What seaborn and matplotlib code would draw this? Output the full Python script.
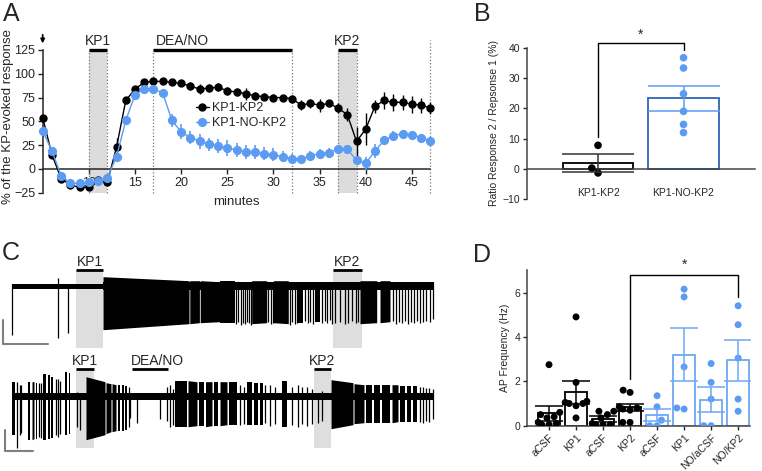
import matplotlib
matplotlib.use("Agg")
import matplotlib.pyplot as plt
import seaborn as sns
import pandas as pd

# ---- panel A: time course (mean +/- SEM) ----
minutes = list(range(5, 48))
kp_mean = [54, 15, -10, -17, -19, -19, -12, -14, 23, 72, 84, 91, 92, 92, 91, 90, 87, 84, 85, 86,
           82, 81, 79, 77, 76, 75, 75, 74, 67, 69, 67, 69, 64, 57, 29, 42, 66, 72, 70, 70, 68, 67, 64]
kp_sem = [3, 3, 3, 3, 3, 3, 3, 3, 10, 4, 3, 3, 3, 3, 3, 3, 4, 5, 4, 4,
          4, 4, 6, 4, 4, 4, 3, 4, 5, 5, 7, 4, 5, 7, 15, 17, 7, 9, 9, 8, 9, 8, 6]
no_mean = [40, 19, -7, -15, -15, -14, -13, -9, 13, 51, 78, 84, 84, 80, 51, 39, 33, 29, 26, 24,
           22, 20, 18, 18, 16, 15, 13, 11, 10, 14, 16, 17, 21, 21, 9, 6, 19, 30, 35, 37, 36, 33, 29]
no_sem = [3, 3, 3, 3, 3, 3, 3, 3, 3, 3, 3, 3, 3, 3, 7, 8, 7, 8, 7, 7,
          8, 7, 7, 7, 7, 7, 6, 5, 4, 5, 5, 5, 4, 4, 5, 7, 7, 5, 5, 4, 4, 4, 3]
kp1_window = (10, 12)
dea_window = (17, 32)
kp2_window = (37, 39)
record_end = 47

# ---- panel B: ratio response 2 / response 1 ----
ratio_groups = ["KP1-KP2", "KP1-NO-KP2"]
ratio_mean = [2.1, 23.3]
ratio_sem = [3.0, 4.1]
ratio_kp = [7.8, 0.3, -1.3]
ratio_no = [36.7, 33.3, 24.8, 19.0, 14.7, 12.0]

# ---- panel D: AP frequency ----
freq_keys = ["aCSF_a", "KP1_a", "aCSF_b", "KP2_a", "aCSF_c", "KP1_b", "NOaCSF", "NOKP2"]
freq_labels = ["aCSF", "KP1", "aCSF", "KP2", "aCSF", "KP1", "NO/aCSF", "NO/KP2"]
freq_mean = [0.55, 1.5, 0.3, 0.82, 0.48, 3.2, 1.18, 2.95]
freq_sem = [0.35, 0.5, 0.12, 0.18, 0.28, 1.18, 0.55, 0.92]
freq_points = [
    [2.75, 0.6, 0.5, 0.4, 0.35, 0.15, 0.1, 0.05, 0.05],
    [4.9, 1.95, 1.1, 1.05, 1.0, 1.0, 0.9, 0.35],
    [0.65, 0.65, 0.5, 0.35, 0.1, 0.05, 0.05, 0.05],
    [1.6, 1.5, 0.85, 0.8, 0.75, 0.7, 0.15, 0.15],
    [1.35, 0.85, 0.25, 0.0, 0.0],
    [6.15, 5.8, 2.65, 0.75, 0.8],
    [2.8, 1.95, 1.2, 0.0, 0.0],
    [5.4, 4.55, 3.05, 1.2, 0.65],
]
freq_group = ["ctrl"] * 4 + ["no"] * 4

# ---- panel C: recordings (time a.u., voltage a.u.) ----
# bursts: (start, end, low_start, low_end, high_start, high_end)
top_bursts = [(91, 177, -43, -37, 10, 6), (177.8, 187.4, -37, -36, 6, 6), (188.2, 208, -36, -35, 6, 5),
              (208, 223, -36, -36, 6, 6), (239.7, 254.7, -37, -36, 6, 6), (261.3, 276.3, -36, -37, 6, 6),
              (286.3, 291.3, -36, -36, 5, 5), (303, 308, -35, -35, 5, 5),
              (348, 364.7, -37, -36, 6, 6), (368, 378, -36, -35, 6, 6)]
top_spike_t = [0, 46, 56, 224, 226, 229, 231, 233, 235, 237, 239, 256, 258.5, 260.5, 278, 280,
               282.5, 285, 293, 295.5, 298, 300.5, 310, 312.5, 315, 317.5, 320, 323, 328, 333,
               336, 340, 343.5, 346, 381, 384, 387, 390, 393, 396, 399, 402, 405, 408, 411, 414,
               418, 421]
top_spike_lo = [-48, -51, -46, -37, -35, -38, -36, -37, -35, -36, -38, -35, -37, -36, -38, -35,
                -37, -36, -34, -36, -35, -37, -36, -34, -36, -33, -37, -36, -35, -37, -36, -34,
                -36, -35, -34, -37, -35, -36, -34, -37, -35, -36, -34, -36, -35, -34, -35, -32]
top_spike_hi = [3, 9, 3] + [5] * 45
bot_bursts = [(0, 2.5, -38, -38, 15, 15), (16, 18, -43, -43, 15, 15), (20, 22, -43, -42, 15, 15),
              (23.5, 25, -42, -42, 14, 14), (31, 34, -43, -43, 23, 23), (35.5, 38, -42, -42, 22, 22),
              (39, 41, -41, -41, 20, 20), (53, 55, -38, -38, 25, 25), (57, 58, -37, -37, 24, 24),
              (74, 93, -43, -38, 20, 15), (94, 99, -37, -35, 14, 13), (100, 104, -35, -34, 13, 12),
              (105.5, 108, -34, -34, 12, 12), (110, 111.5, -34, -34, 12, 12), (113, 114.5, -33, -33, 11, 11),
              (163, 175, -30, -30, 16, 16), (176, 185, -30, -29, 16, 15), (186.5, 192, -29, -29, 15, 15),
              (193.5, 200, -30, -29, 15, 15), (202, 206, -29, -29, 15, 15), (208, 215, -29, -28, 15, 15),
              (217, 225, -28, -28, 15, 15), (235, 240, -28, -28, 15, 15), (242, 246, -28, -28, 14, 14),
              (248, 251, -28, -28, 14, 14), (270, 275, -30, -30, 16, 16),
              (319, 341, -32, -28, 17, 14), (342, 352, -27, -26, 13, 12), (353.5, 360, -26, -26, 12, 12),
              (361.5, 368, -26, -26, 12, 12), (370, 378, -26, -26, 12, 12), (380, 386, -26, -25, 12, 12),
              (388, 393, -25, -25, 11, 11), (395, 399, -25, -25, 11, 11), (401, 405, -25, -25, 11, 11)]
bot_spike_t = [5, 7.5, 9, 27, 29, 44, 46, 48, 65, 68, 116.5, 118, 125, 148, 155, 158, 161, 228,
               232, 253, 258, 263, 280, 286, 290, 295, 300, 306, 310, 408, 411, 414, 417, 421]
bot_spike_lo = [-51, -38, -36, -40, -41, -38, -40, -37, -30, -33, -30, -21, -26, -22, -24, -30,
                -28, -28, -27, -26, -29, -27, -28, -30, -27, -29, -27, -26, -24, -25, -26, -24,
                -25, -22]
bot_spike_hi = [15, 12, 12, 14, 14, 18, 18, 16, 5, 4, 10, 3, 3, 4, 10, 12, 8, 12, 10, 12, 12, 10,
                10, 12, 10, 10, 8, 4, 6, 10, 10, 9, 9, 8]
top_windows = {"KP1": (64, 91.3), "KP2": (321.3, 349.7)}
bot_windows = {"KP1": (64, 82.3), "KP2": (302, 318.7)}
bot_dea = (120.3, 155.7)
top_end = 422
bot_end = 422

BLUE = "#5b9cf2"
BLUE_DARK = "#2f63b8"
BLUE_BAR = "#6ea8f5"

sns.set_style("ticks")
plt.rcParams["font.family"] = ["Liberation Sans", "DejaVu Sans"]
plt.rcParams["axes.linewidth"] = 1.1

W, H = 762, 471
fig = plt.figure(figsize=(W / 100, H / 100), dpi=100)


def px_axes(left, top, width, height):
    return fig.add_axes([left / W, 1 - (top + height) / H, width / W, height / H])


# ================= A =================
ax = px_axes(42.7, 26.2, 392.3, 168.5)
ax.set_xlim(5, 47.5)
ax.set_ylim(-27, 150)
for (a, b) in [kp1_window, kp2_window]:
    ax.fill_between([a, b], -25.5, 125, color="#dcdcdc", lw=0, zorder=0)
ax.vlines([kp1_window[0], kp1_window[1], dea_window[0], dea_window[1], kp2_window[0],
           kp2_window[1]], -25.5, 125, colors="#777777", linestyles=":", lw=0.9, zorder=1)
ax.vlines([record_end], -25.5, 135, colors="#777777", linestyles=":", lw=0.9, zorder=1, clip_on=False)
for (a, b), name in [(kp1_window, "KP1"), (dea_window, "DEA/NO"), (kp2_window, "KP2")]:
    ax.plot([a, b], [125, 125], color="black", lw=2.4, solid_capstyle="butt", clip_on=False)
    if name == "DEA/NO":
        ax.text(a + 0.3, 134, name, ha="left", va="center", fontsize=10)
    else:
        ax.text((a + b) / 2, 134, name, ha="center", va="center", fontsize=10)
h1 = ax.errorbar(minutes, kp_mean, yerr=kp_sem, fmt="-o", color="black", ms=5, lw=1,
                 elinewidth=1, capsize=0, clip_on=False, zorder=3)
h2 = ax.errorbar(minutes, no_mean, yerr=no_sem, fmt="-o", color=BLUE, ms=5.6, lw=1,
                 elinewidth=1.2, capsize=0, clip_on=False, zorder=4)
ax.annotate("", xy=(5, 129), xytext=(5, 144),
            arrowprops=dict(arrowstyle="-|>", color="black", lw=1.2, mutation_scale=6),
            annotation_clip=False)
ax.spines["top"].set_visible(False)
ax.spines["right"].set_visible(False)
ax.spines["bottom"].set_position(("data", 0))
ax.spines["bottom"].set_bounds(5, 47)
ax.spines["left"].set_bounds(-25, 125)
ax.set_yticks([-25, 0, 25, 50, 75, 100, 125])
ax.set_xticks([10, 15, 20, 25, 30, 35, 40, 45])
ax.tick_params(labelsize=9, length=3.5, width=1, pad=2)
ax.legend([h1[0], h2[0]], ["KP1-KP2", "KP1-NO-KP2"], loc="upper left",
          bbox_to_anchor=(196 / W, 1 - 102 / H), bbox_transform=fig.transFigure,
          frameon=False, fontsize=9, handlelength=1.0, handletextpad=0.3,
          labelspacing=0.25, borderpad=0, borderaxespad=0)
fig.text(236.7 / W, 1 - 201.7 / H, "minutes", ha="center", va="center", fontsize=9.5)
fig.text(8 / W, 1 - 117 / H, "% of the KP-evoked response", ha="center", va="center",
         rotation=90, fontsize=9.5)

# ================= B =================
axb = px_axes(526.7, 47.7, 228.3, 151.6)
bdf = pd.DataFrame({"group": ratio_groups, "ratio": ratio_mean})
pdf = pd.DataFrame({"group": ["KP1-KP2"] * len(ratio_kp) + ["KP1-NO-KP2"] * len(ratio_no),
                    "ratio": ratio_kp + ratio_no})
sns.barplot(data=bdf, x="group", y="ratio", order=ratio_groups, color="white", edgecolor="black",
            linewidth=1.3, width=0.82, errorbar=None, ax=axb)
for patch, ec in zip(axb.patches, ["black", BLUE_DARK]):
    patch.set_edgecolor(ec)
    patch.set_facecolor("white")
sns.swarmplot(data=pdf, x="group", y="ratio", order=ratio_groups, hue="group",
              palette={"KP1-KP2": "black", "KP1-NO-KP2": BLUE}, size=5.5, legend=False,
              ax=axb, zorder=3)
for i, (m, s, c) in enumerate(zip(ratio_mean, ratio_sem, ["#333333", BLUE])):
    axb.errorbar([i], [m], yerr=[s], fmt="none", ecolor=c, elinewidth=1.1, capsize=26,
                 capthick=1.1, zorder=4)
top_b = max(ratio_no) + 5
axb.plot([0, 0, 1, 1], [max(ratio_kp) + 2.7, top_b, top_b, max(ratio_no) + 2.5],
         color="black", lw=1, clip_on=False)
axb.text(0.5, top_b + 2.6, "*", ha="center", va="center", fontsize=10)
axb.set_xlim(-0.834, 1.836)
axb.set_ylim(-10, 40)
axb.set_yticks([-10, 0, 10, 20, 30, 40])
axb.spines["top"].set_visible(False)
axb.spines["right"].set_visible(False)
axb.spines["bottom"].set_position(("data", 0))
axb.spines["bottom"].set_color("#444444")
axb.spines["left"].set_color("#444444")
axb.set_xlabel("")
axb.set_ylabel("Ratio Response 2 / Repsonse 1 (%)", fontsize=7.5, labelpad=2)
axb.tick_params(axis="y", labelsize=7.5, length=3, width=1, pad=2)
axb.tick_params(axis="x", labelsize=7.5, length=0, pad=14)

# ================= C =================
axt = px_axes(0, 250, 440, 102)
axt.set_xlim(-12, 428)
axt.set_ylim(-65.3, 36.7)
for name, (a, b) in top_windows.items():
    axt.fill_between([a, b], -61.6, 16.7, color="#dedede", lw=0, zorder=0)
    axt.plot([a, b], [16.7, 16.7], color="black", lw=2, solid_capstyle="butt")
    axt.text((a + b) / 2, 25, name, ha="center", va="center", fontsize=10)
axt.fill_between([0, 91], -2.5, 2.5, color="black", lw=0)
axt.fill_between([91, top_end], -3, 4.5, color="black", lw=0)
for s, e, lo0, lo1, hi0, hi1 in top_bursts:
    axt.fill_between([s, e], [lo0, lo1], [hi0, hi1], color="black", lw=0)
axt.vlines(top_spike_t, top_spike_lo, top_spike_hi, colors="black", lw=0.9)
axt.plot([-8.7, -8.7, 36.3], [-33.3, -57.6, -57.6], color="#808080", lw=1.5)
axt.axis("off")

axc = px_axes(0, 352, 440, 113)
axc.set_xlim(-12, 428)
axc.set_ylim(-68.3, 44.7)
for name, (a, b) in bot_windows.items():
    axc.fill_between([a, b], -51.6, 27.4, color="#dedede", lw=0, zorder=0)
    axc.plot([a, b], [27.4, 27.4], color="black", lw=2, solid_capstyle="butt")
    axc.text((a + b) / 2, 35.5, name, ha="center", va="center", fontsize=10)
axc.plot(list(bot_dea), [27.4, 27.4], color="black", lw=2, solid_capstyle="butt")
axc.text(bot_dea[0] - 1, 35.5, "DEA/NO", ha="left", va="center", fontsize=10)
axc.fill_between([0, bot_end], -3.5, 3.5, color="black", lw=0)
for s, e, lo0, lo1, hi0, hi1 in bot_bursts:
    axc.fill_between([s, e], [lo0, lo1], [hi0, hi1], color="black", lw=0)
axc.vlines(bot_spike_t, bot_spike_lo, bot_spike_hi, colors="black", lw=0.9)
axc.plot([-7, -7, 21.3], [-33.3, -54, -54], color="#808080", lw=1.5)
axc.axis("off")

# ================= D =================
axd = px_axes(527.3, 270.3, 222.7, 155.4)
ddf = pd.DataFrame({"cond": freq_keys, "freq": freq_mean})
rows = []
for key, grp, pts in zip(freq_keys, freq_group, freq_points):
    for v in pts:
        rows.append({"cond": key, "grp": grp, "freq": v})
dpts = pd.DataFrame(rows)
sns.barplot(data=ddf, x="cond", y="freq", order=freq_keys, color="white", edgecolor="black",
            linewidth=1.3, width=0.8, errorbar=None, ax=axd)
dcolors = ["black" if g == "ctrl" else BLUE_BAR for g in freq_group]
for patch, ec in zip(axd.patches, dcolors):
    patch.set_edgecolor(ec)
    patch.set_facecolor("white")
sns.swarmplot(data=dpts, x="cond", y="freq", order=freq_keys, hue="grp",
              palette={"ctrl": "black", "no": BLUE}, size=5, legend=False, ax=axd, zorder=3)
for i, (m, s, c) in enumerate(zip(freq_mean, freq_sem, dcolors)):
    axd.errorbar([i], [m], yerr=[s], fmt="none", ecolor=c, elinewidth=1.1, capsize=10,
                 capthick=1.1, zorder=4)
top_d = max(max(p) for p in freq_points) + 0.65
axd.plot([3, 3, 7, 7], [max(freq_points[3]) + 0.5, top_d, top_d, max(freq_points[7]) + 0.4],
         color="black", lw=1, clip_on=False)
axd.text(5, top_d + 0.45, "*", ha="center", va="center", fontsize=10)
axd.set_xlim(-0.804, 7.44)
axd.set_ylim(0, 7)
axd.set_yticks([0, 2, 4, 6])
axd.set_xticks(range(len(freq_labels)))
axd.set_xticklabels(freq_labels, rotation=45, ha="right", rotation_mode="anchor")
axd.spines["top"].set_visible(False)
axd.spines["right"].set_visible(False)
axd.spines["bottom"].set_color("#444444")
axd.spines["left"].set_color("#444444")
axd.set_xlabel("")
axd.set_ylabel("AP Frequency (Hz)", fontsize=7.5, labelpad=3)
axd.tick_params(axis="y", labelsize=7.5, length=3, width=1, pad=2)
axd.tick_params(axis="x", labelsize=7.5, length=3, width=1, pad=2)

# panel letters
for letter, x, y in [("A", 11, 14), ("B", 482, 14), ("C", 11, 253), ("D", 482, 255)]:
    fig.text(x / W, 1 - y / H, letter, ha="center", va="center", fontsize=18)

fig.savefig("out.png", dpi=100)
